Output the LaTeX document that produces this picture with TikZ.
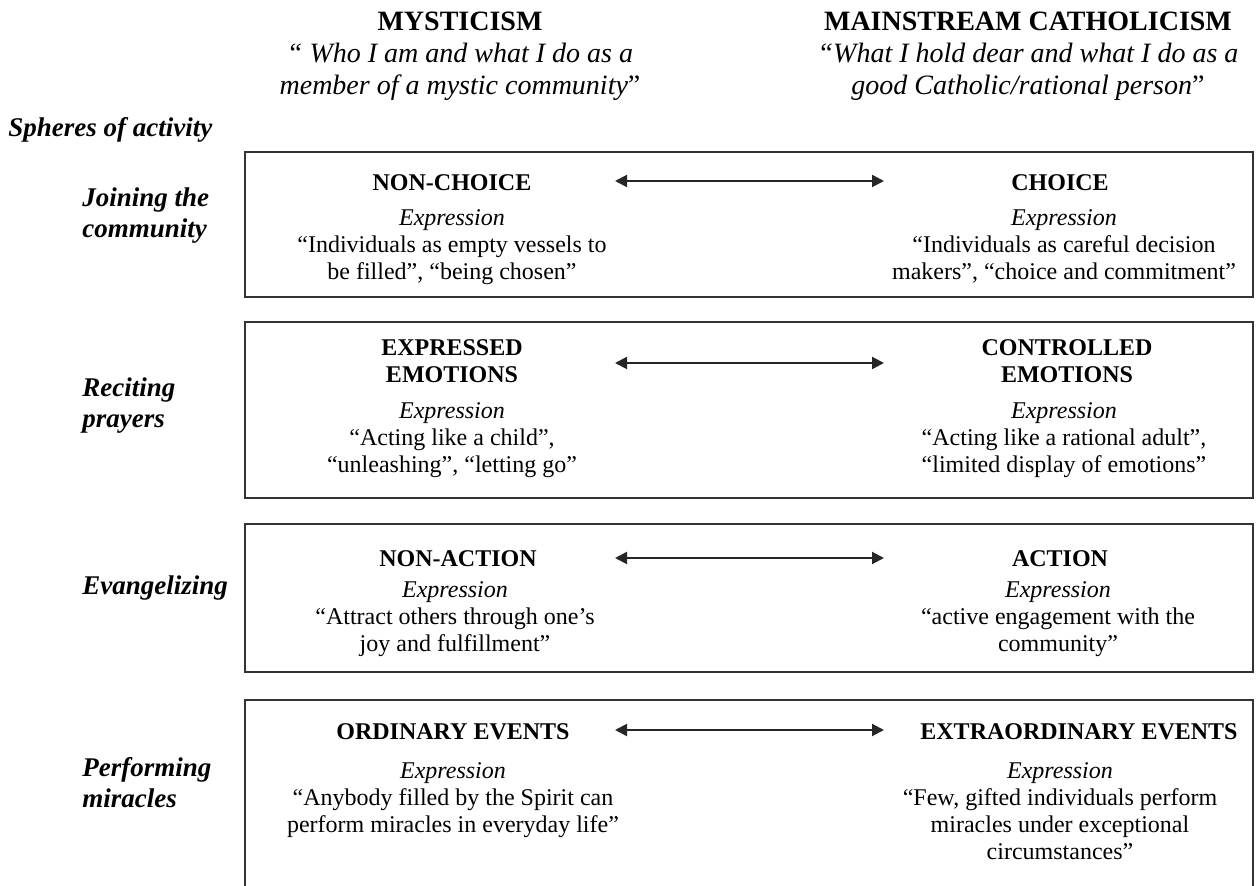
\documentclass[tikz,border=0pt]{standalone}
\usepackage{fontspec}
\setmainfont{Liberation Serif}
\usetikzlibrary{arrows.meta}
\begin{document}
\begin{tikzpicture}[x=0.5pt,y=-0.5pt,
  boxline/.style={draw=black!80,line width=1pt},
  twoway/.style={black!85,line width=1pt,{Triangle[length=6pt,width=6pt]}-{Triangle[length=6pt,width=6pt]}},
  head/.style={anchor=base,align=center,font=\fontsize{14}{16}\selectfont,inner sep=0pt},
  sphere/.style={anchor=base west,align=left,font=\fontsize{13.5}{15.5}\selectfont\bfseries\itshape,inner sep=0pt},
  pole/.style={anchor=base,align=center,font=\fontsize{12}{13.5}\selectfont\bfseries,inner sep=0pt},
  expr/.style={anchor=base,align=center,font=\fontsize{12}{13.5}\selectfont,inner sep=0pt}]

\useasboundingbox (0,0) rectangle (1257,886);

\node[head] (mystic) at (460,95) {\textbf{MYSTICISM}\\\textit{“ Who I am and what I do as a}\\\textit{member of a mystic community}”};
\node[head] (mainstream) at (1028,95) {\textbf{MAINSTREAM CATHOLICISM}\\\textit{“What I hold dear and what I do as a}\\\textit{good Catholic/rational person}”};

\node[sphere] (spheres) at (8,137) {Spheres of activity};
\node[sphere] (joining) at (82,238) {Joining the\\community};
\node[sphere] (reciting) at (82,428) {Reciting\\prayers};
\node[sphere] (evang) at (82,595) {Evangelizing};
\node[sphere] (miracles) at (82,807) {Performing\\miracles};

\draw[boxline] (245,152) rectangle (1253,297);
\draw[boxline] (245,322) rectangle (1253,498);
\draw[boxline] (245,524) rectangle (1253,672);
\draw[boxline] (245,886) -- (245,700) -- (1253,700) -- (1253,886);

\node[pole] (nonchoice) at (452,191) {NON-CHOICE};
\node[pole] (choice) at (1060,191) {CHOICE};
\node[expr] (nonchoiceex) at (452,280) {\textit{Expression}\\“Individuals as empty vessels to\\be filled”, “being chosen”};
\node[expr] (choiceex) at (1064,280) {\textit{Expression}\\“Individuals as careful decision\\makers”, “choice and commitment”};
\coordinate (l1) at (615,181);
\coordinate (r1) at (884,181);
\draw[twoway] (l1) -- (r1);

\node[pole] (expressed) at (452,383) {EXPRESSED\\EMOTIONS};
\node[pole] (controlled) at (1067,383) {CONTROLLED\\EMOTIONS};
\node[expr] (expressedex) at (452,473) {\textit{Expression}\\“Acting like a child”,\\“unleashing”, “letting go”};
\node[expr] (controlledex) at (1064,473) {\textit{Expression}\\“Acting like a rational adult”,\\“limited display of emotions”};
\coordinate (l2) at (615,363);
\coordinate (r2) at (884,363);
\draw[twoway] (l2) -- (r2);

\node[pole] (nonaction) at (458,567) {NON-ACTION};
\node[pole] (action) at (1060,567) {ACTION};
\node[expr] (nonactionex) at (455,652) {\textit{Expression}\\“Attract others through one’s\\joy and fulfillment”};
\node[expr] (actionex) at (1058,652) {\textit{Expression}\\“active engagement with the\\community”};
\coordinate (l3) at (615,558);
\coordinate (r3) at (884,558);
\draw[twoway] (l3) -- (r3);

\node[pole] (ordinary) at (453,739) {ORDINARY EVENTS};
\node[pole] (extra) at (1079,739) {EXTRAORDINARY EVENTS};
\node[expr] (ordinaryex) at (453,832) {\textit{Expression}\\“Anybody filled by the Spirit can\\perform miracles in everyday life”};
\node[expr] (extraex) at (1060,859) {\textit{Expression}\\“Few, gifted individuals perform\\miracles under exceptional\\circumstances”};
\coordinate (l4) at (615,730);
\coordinate (r4) at (884,730);
\draw[twoway] (l4) -- (r4);

\end{tikzpicture}
\end{document}
